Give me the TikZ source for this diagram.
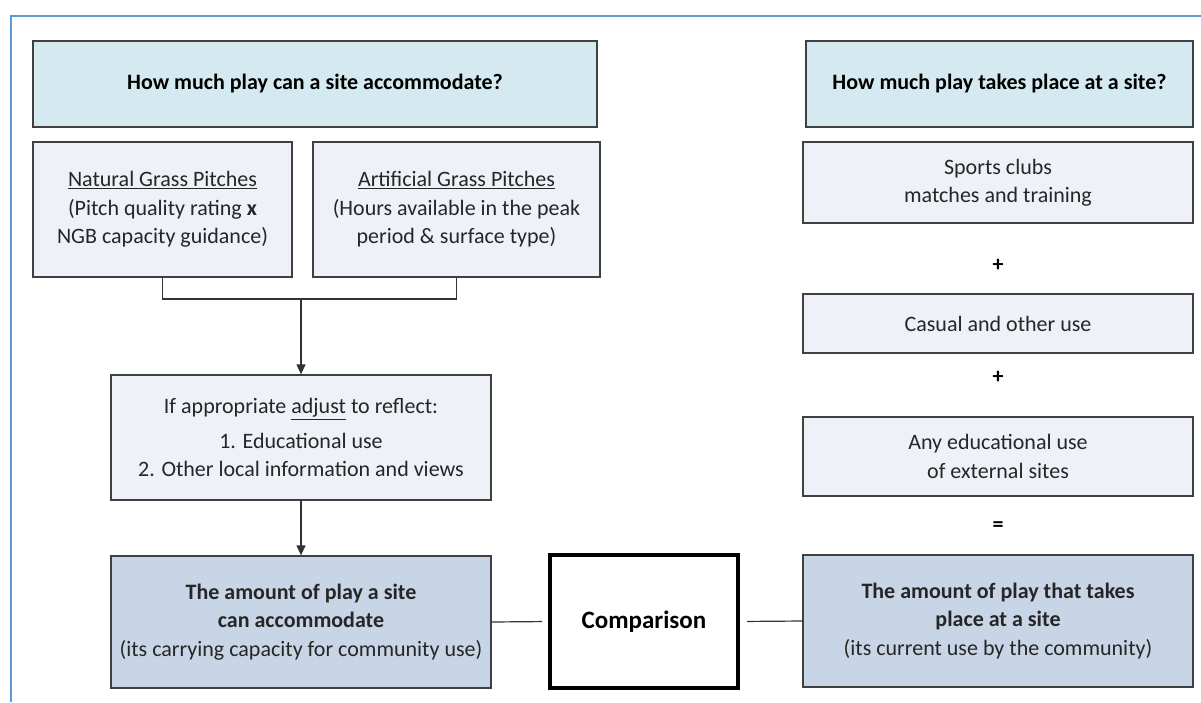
\documentclass[tikz,border=0pt]{standalone}
\usepackage{fontspec}
\setmainfont{Carlito}
\usetikzlibrary{arrows.meta}
\definecolor{frameblue}{HTML}{5B9BD5}
\definecolor{headfill}{HTML}{D5EAF0}
\definecolor{boxfill}{HTML}{EEF1F7}
\definecolor{sumfill}{HTML}{C8D5E6}
\definecolor{boxline}{HTML}{404040}
\definecolor{inkgray}{HTML}{262626}

\begin{document}
\begin{tikzpicture}[x=1pt,y=-1pt,
  box/.style={draw=boxline,line width=1.3pt,fill=boxfill,align=center,text=inkgray,inner sep=0pt,font=\fontsize{22}{28.5}\selectfont},
  headbox/.style={box,fill=headfill,text=black,font=\fontsize{22}{28.5}\selectfont\bfseries},
  sumbox/.style={box,fill=sumfill},
  sign/.style={text=black,font=\fontsize{22}{28}\selectfont\bfseries},
  link/.style={draw=black!80,line width=1.2pt},
  arr/.style={link,-{Triangle[length=10pt,width=9pt]}}
]
			%%%%% START %%%%%
			\useasboundingbox (0,0) rectangle (1201,702);
			\fill[white] (0,0) rectangle (1201,702);
			\draw[frameblue,line width=2pt] (11,702) -- (11,16) -- (1201,16);
			
			% left column
			\node[headbox,minimum width=564pt,minimum height=86pt] (hdrL) at (315,84) {How much play can a site accommodate?};
			\node[box,minimum width=259pt,minimum height=135pt] (natural) at (162.5,209.5) {\underline{Natural Grass Pitches}\\(Pitch quality rating \textbf{x}\\NGB capacity guidance)};
			\node[box,minimum width=287pt,minimum height=135pt] (artificial) at (456.5,209.5) {\underline{Artificial Grass Pitches}\\(Hours available in the peak\\period \& surface type)};
			\node[box,minimum width=380pt,minimum height=125pt] (adjust) at (301,437.5) {If appropriate \underline{adjust} to reflect:\\[6pt]1. Educational use\\2. Other local information and views};
			\node[sumbox,minimum width=380pt,minimum height=132pt] (capacity) at (301,622) {\textbf{The amount of play a site}\\\textbf{can accommodate}\\(its carrying capacity for community use)};
			
			\coordinate (join) at (301,299);
			\draw[link] (natural.south) |- (join) -| (artificial.south);
			\draw[arr] (join) -- (adjust.north);
			\draw[arr] (adjust.south) -- (capacity.north);
			
			% middle
			\node[draw=black,line width=4pt,fill=white,minimum width=188pt,minimum height=133pt,font=\fontsize{25}{30}\selectfont\bfseries] (comparison) at (644,621.5) {Comparison};
			
			% right column
			\node[headbox,minimum width=387pt,minimum height=86pt] (hdrR) at (999.5,84) {How much play takes place at a site?};
			\node[box,minimum width=390pt,minimum height=81pt] (sports) at (998,182.5) {Sports clubs\\matches and training};
			\node[sign] (plusA) at (998,265) {+};
			\node[box,minimum width=390pt,minimum height=59pt] (casual) at (998,323.5) {Casual and other use};
			\node[sign] (plusB) at (998,377) {+};
			\node[box,minimum width=390pt,minimum height=79pt] (educ) at (998,456.5) {Any educational use\\of external sites};
			\node[sign] (equal) at (998,527) {=};
			\node[sumbox,minimum width=390pt,minimum height=132pt] (current) at (998,621) {\textbf{The amount of play that takes}\\\textbf{place at a site}\\(its current use by the community)};
			
			\draw[link,shorten >=6pt] (capacity.east) -- (comparison.west);
			\draw[link,shorten <=7pt] (comparison.east) -- (current.west);
			%%%%% END %%%%%
\end{tikzpicture}
\end{document}
